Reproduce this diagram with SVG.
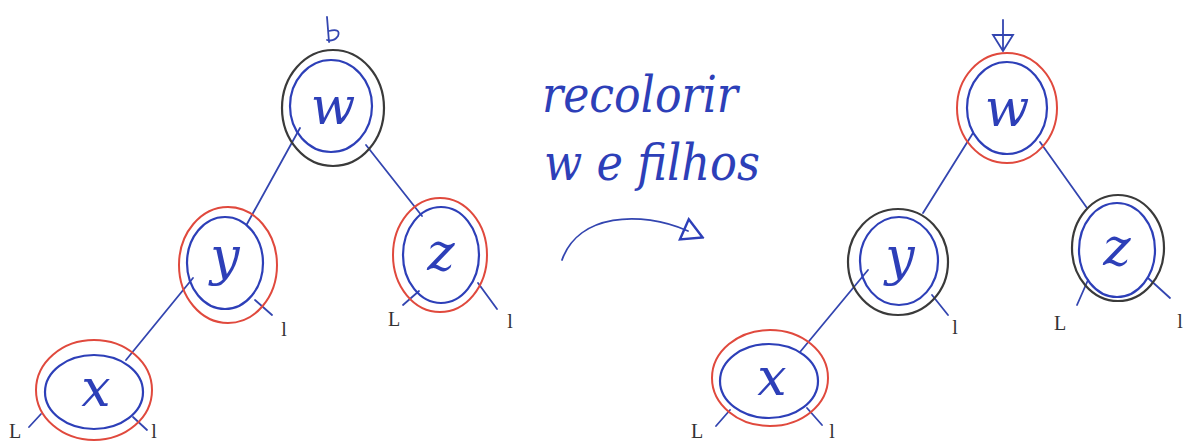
<svg xmlns="http://www.w3.org/2000/svg" width="1190" height="446" viewBox="0 0 1190 446">
<defs>
<style>
.inner{fill:none;stroke:#2d3fb8;stroke-width:2.2}
.red{fill:none;stroke:#e0493d;stroke-width:2}
.blk{fill:none;stroke:#3a3a3a;stroke-width:2.2}
.edge{fill:none;stroke:#3345b0;stroke-width:1.8;stroke-linecap:round}
.lbl{font-family:"DejaVu Serif","Liberation Serif",serif;font-style:italic;fill:#2d3fb8;text-anchor:middle}
.node{font-size:52px}
.nil{font-family:"Liberation Serif",serif;font-size:20px;fill:#333;text-anchor:middle}
.hand{font-family:"DejaVu Serif","Liberation Serif",serif;font-style:italic;fill:#2d3fb8;font-size:50px}
</style>
<marker id="openTri" viewBox="0 0 24 26" refX="6" refY="13" markerWidth="24" markerHeight="26" markerUnits="userSpaceOnUse" orient="auto">
<path d="M2,2 L22,13 L2,24 Z" fill="none" stroke="#2d3fb8" stroke-width="2.4"/>
</marker>
</defs>
<rect width="1190" height="446" fill="#ffffff"/>

<!-- connectors -->
<g id="connectors">
  <!-- left tree -->
  <line class="edge" x1="300" y1="128" x2="247" y2="224"/>
  <line class="edge" x1="366" y1="145" x2="422" y2="216"/>
  <line class="edge" x1="193" y1="278" x2="126" y2="360"/>
  <line class="edge" x1="255" y1="300" x2="272" y2="315"/>
  <line class="edge" x1="419" y1="291" x2="403" y2="305"/>
  <line class="edge" x1="478" y1="283" x2="497" y2="309"/>
  <line class="edge" x1="41" y1="414" x2="29" y2="427"/>
  <line class="edge" x1="133" y1="417" x2="147" y2="430"/>
  <!-- right tree -->
  <line class="edge" x1="973" y1="133" x2="923" y2="213"/>
  <line class="edge" x1="1040" y1="142" x2="1087" y2="208"/>
  <line class="edge" x1="868" y1="270" x2="800" y2="352"/>
  <line class="edge" x1="932" y1="295" x2="948" y2="315"/>
  <line class="edge" x1="1088" y1="280" x2="1077" y2="305"/>
  <line class="edge" x1="1148" y1="278" x2="1170" y2="298"/>
  <line class="edge" x1="730" y1="410" x2="716" y2="426"/>
  <line class="edge" x1="807" y1="408" x2="822" y2="425"/>
  <!-- root pointers -->
  <path class="edge" d="M327,17 L329,42 M329,31 Q341,28 338,36 Q334,42 327,40"/>
  <path class="edge" d="M1003,20 L1003,50 M993,35 L1013,35 L1003,51 Z"/>
  <!-- transformation arrow -->
  <path class="edge" d="M562,260 C578,214 640,210 688,231" marker-end="url(#openTri)"/>
</g>

<!-- left tree -->
<g id="L-w">
  <ellipse class="blk" cx="333" cy="108" rx="51" ry="58"/>
  <ellipse class="inner" cx="331" cy="106" rx="41" ry="46"/>
  <text class="lbl node" x="333" y="124">w</text>
</g>
<g id="L-y">
  <ellipse class="red" cx="228" cy="265" rx="49" ry="58"/>
  <ellipse class="inner" cx="225" cy="263" rx="38" ry="46"/>
  <text class="lbl node" x="225" y="274">y</text>
</g>
<g id="L-z">
  <ellipse class="red" cx="440" cy="255" rx="47" ry="57"/>
  <ellipse class="inner" cx="441" cy="255" rx="38" ry="48"/>
  <text class="lbl node" x="441" y="270">z</text>
</g>
<g id="L-x">
  <ellipse class="red" cx="94" cy="390" rx="58" ry="50"/>
  <ellipse class="inner" cx="94" cy="392" rx="49" ry="37"/>
  <text class="lbl node" x="96" y="406">x</text>
</g>
<g id="L-nil">
  <text class="nil" x="284" y="336">l</text>
  <text class="nil" x="394" y="326">L</text>
  <text class="nil" x="510" y="328">l</text>
  <text class="nil" x="15" y="438">L</text>
  <text class="nil" x="154" y="438">l</text>
</g>

<!-- middle label -->
<g id="label">
  <text class="hand" x="542" y="112" textLength="196" lengthAdjust="spacingAndGlyphs">recolorir</text>
  <text class="hand" x="544" y="180" textLength="216" lengthAdjust="spacingAndGlyphs">w e filhos</text>
</g>

<!-- right tree -->
<g id="R-w">
  <ellipse class="red" cx="1007" cy="108" rx="50" ry="55"/>
  <ellipse class="inner" cx="1007" cy="108" rx="40" ry="46"/>
  <text class="lbl node" x="1007" y="126">w</text>
</g>
<g id="R-y">
  <ellipse class="blk" cx="898" cy="262" rx="50" ry="53"/>
  <ellipse class="inner" cx="899" cy="261" rx="39" ry="44"/>
  <text class="lbl node" x="900" y="274">y</text>
</g>
<g id="R-z">
  <ellipse class="blk" cx="1118" cy="248" rx="46" ry="53"/>
  <ellipse class="inner" cx="1117" cy="250" rx="38" ry="47"/>
  <text class="lbl node" x="1117" y="265">z</text>
</g>
<g id="R-x">
  <ellipse class="red" cx="770" cy="378" rx="58" ry="48"/>
  <ellipse class="inner" cx="769" cy="381" rx="49" ry="37"/>
  <text class="lbl node" x="772" y="395">x</text>
</g>
<g id="R-nil">
  <text class="nil" x="955" y="334">l</text>
  <text class="nil" x="1060" y="330">L</text>
  <text class="nil" x="1180" y="328">l</text>
  <text class="nil" x="697" y="438">L</text>
  <text class="nil" x="832" y="438">l</text>
</g>
</svg>
